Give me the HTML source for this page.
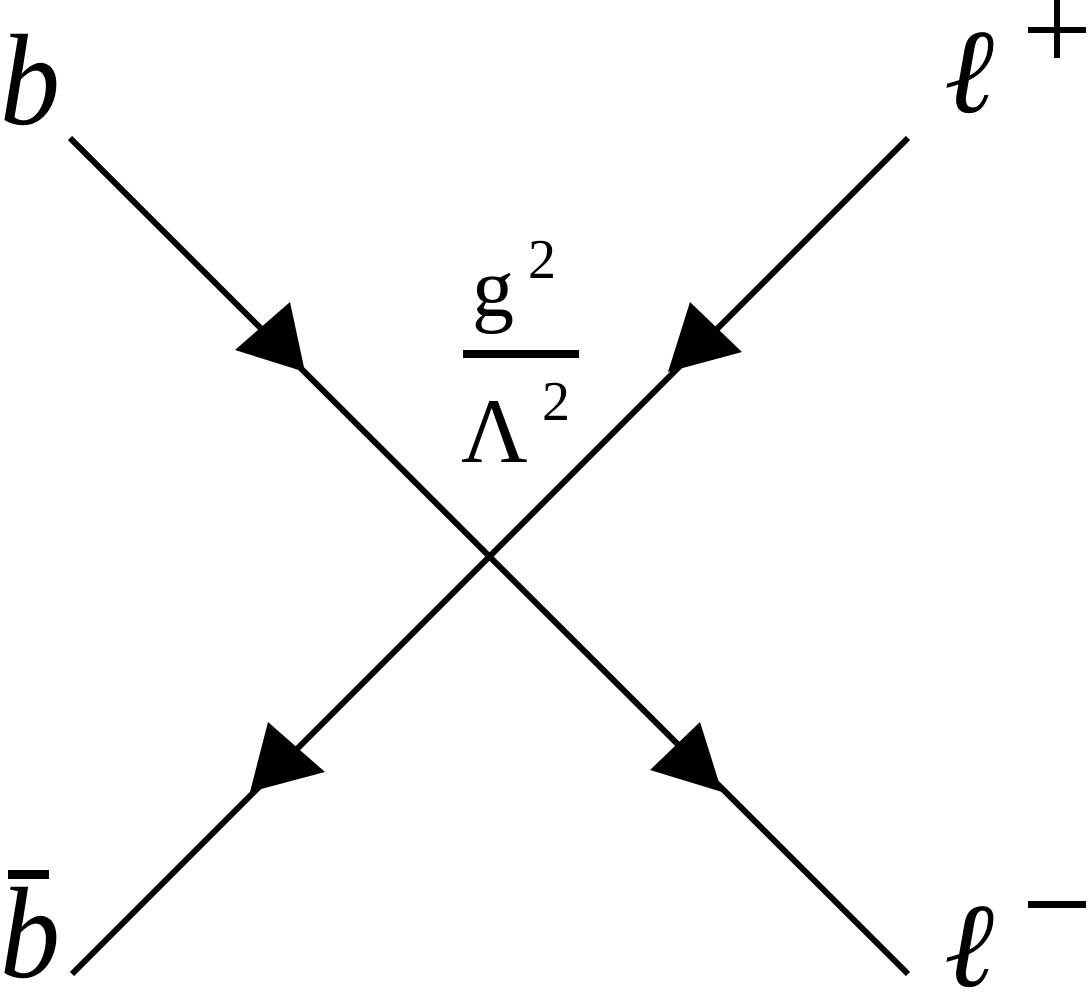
<!DOCTYPE html>
<html><head><meta charset="utf-8"><style>
html,body{margin:0;padding:0;background:#fff;}
svg{display:block;}
text{font-family:"Liberation Serif","DejaVu Serif",serif;fill:#000;}
</style></head><body>
<svg width="1092" height="992" viewBox="0 0 1092 992" xmlns="http://www.w3.org/2000/svg">
<g stroke="#000" stroke-width="6" stroke-linecap="butt">
<line x1="70" y1="138" x2="908" y2="974"/>
<line x1="908" y1="138" x2="72" y2="974"/>
</g>
<g fill="#000">
<polygon points="305,372 235,350 290,302"/>
<polygon points="722,792 650,770 700,722"/>
<polygon points="668,372 690,302 742,352"/>
<polygon points="250,792 268,722 325,772"/>
</g>
<text x="0" y="124" font-size="130" font-style="italic" textLength="60" lengthAdjust="spacingAndGlyphs">b</text>
<text x="0" y="977" font-size="130" font-style="italic" textLength="60" lengthAdjust="spacingAndGlyphs">b</text>
<rect x="8" y="870" width="41" height="9" fill="#000"/>
<text x="944" y="112" font-size="120" font-style="italic">ℓ</text>
<text x="944" y="986" font-size="120" font-style="italic">ℓ</text>
<rect x="1028" y="27" width="58" height="6" fill="#000"/>
<rect x="1054" y="0" width="6" height="58" fill="#000"/>
<rect x="1028" y="901" width="58" height="7" fill="#000"/>
<text x="472" y="316" font-size="84">g</text>
<text x="528" y="278" font-size="56">2</text>
<rect x="463" y="350" width="116" height="8" fill="#000"/>
<text x="461" y="462" font-size="92">Λ</text>
<text x="542" y="420" font-size="56">2</text>
</svg>
</body></html>
